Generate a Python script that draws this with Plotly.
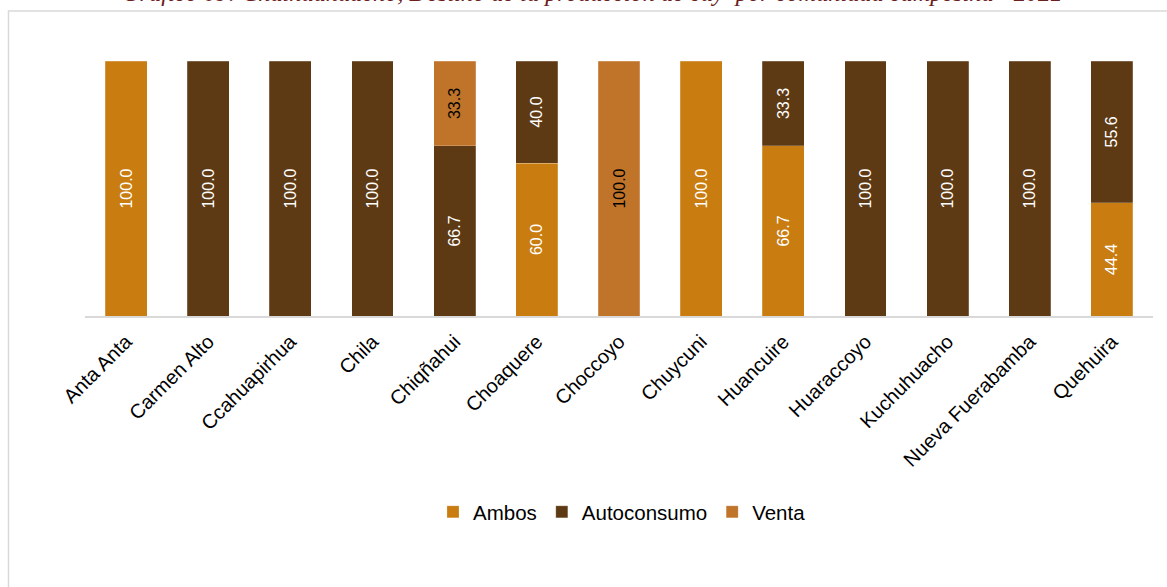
import plotly.graph_objects as go

comunidades = ["Anta Anta", "Carmen Alto", "Ccahuapirhua", "Chila", "Chiqñahui", "Choaquere",
               "Choccoyo", "Chuycuni", "Huancuire", "Huaraccoyo", "Kuchuhuacho",
               "Nueva Fuerabamba", "Quehuira"]
ambos = [100.0, None, None, None, None, 60.0, None, 100.0, 66.7, None, None, None, 44.4]
autoconsumo = [None, 100.0, 100.0, 100.0, 66.7, 40.0, None, None, 33.3, 100.0, 100.0, 100.0, 55.6]
venta = [None, None, None, None, 33.3, None, 100.0, None, None, None, None, None, None]

series = [
    ("Ambos", ambos, "#C97C10", "white"),
    ("Autoconsumo", autoconsumo, "#5E3A14", "white"),
    ("Venta", venta, "#C0742A", "black"),
]

fig = go.Figure()
for name, vals, color, txt in series:
    fig.add_trace(go.Bar(
        name=name, x=comunidades, y=vals,
        marker=dict(color=color, line=dict(color="rgba(255,255,255,0.35)", width=0.6)),
        text=[f"{v:.1f}" if v is not None else "" for v in vals],
        textposition="inside", insidetextanchor="middle", textangle=-90,
        textfont=dict(family="Liberation Sans, Arial", size=16, color=txt),
        constraintext="none",
    ))

# plot area: x 85..1153, y 61..316
W, H = 1167, 587
L, R, T, B = 85, 14, 61, 271
pw, ph = W - L - R, H - T - B


def px_x(x):
    return (x - L) / pw


def px_y(y):
    return (H - B - y) / ph


fig.update_layout(
    width=W, height=H,
    margin=dict(l=L, r=R, t=T, b=B),
    barmode="stack", bargap=0.49,
    plot_bgcolor="white", paper_bgcolor="white",
    font=dict(family="Liberation Sans, Arial", size=20, color="black"),
    xaxis=dict(tickangle=-45, showline=True, linecolor="#D9D9D9", linewidth=2,
               ticks="", showgrid=False, tickfont=dict(size=20), ticklabelstandoff=4),
    yaxis=dict(range=[0, 100], visible=False, showgrid=False),
    legend=dict(orientation="h", x=px_x(622), y=px_y(512), xanchor="center", yanchor="middle",
                font=dict(size=20.5), itemwidth=30, traceorder="normal"),
    showlegend=True,
    shapes=[dict(type="rect", xref="paper", yref="paper",
                 x0=px_x(8.5), x1=px_x(1180), y0=px_y(11), y1=px_y(600),
                 line=dict(color="#D9D9D9", width=1.5), layer="below")],
    annotations=[dict(
        text="Gráfico 09: Chalhuahuacho, Destino de la producción de cuy  por comunidad campesina - <b>2021</b>",
        xref="paper", yref="paper", x=px_x(592), y=px_y(8), xanchor="center", yanchor="bottom",
        showarrow=False,
        font=dict(family="Liberation Serif, DejaVu Serif", size=24.3, color="#6B2020", style="italic"),
    )],
)

fig.write_html("out.html", config={"displayModeBar": False},
               post_script="document.body.style.margin='0';")
